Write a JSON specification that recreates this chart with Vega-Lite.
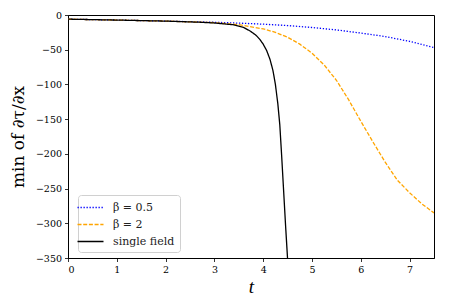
{
  "$schema": "https://vega.github.io/schema/vega-lite/v6.json",
  "width": 366,
  "height": 243,
  "autosize": {"type": "none"},
  "padding": {"left": 68, "top": 15, "right": 23, "bottom": 47},
  "background": "white",
  "config": {
    "view": {"stroke": "black", "strokeWidth": 1},
    "font": "DejaVu Serif",
    "axis": {
      "grid": false,
      "domainColor": "black",
      "tickColor": "black",
      "tickSize": 3.5,
      "tickWidth": 0.8,
      "domainWidth": 1,
      "labelFont": "DejaVu Serif",
      "labelFontSize": 9.5,
      "labelColor": "black",
      "labelPadding": 3,
      "titleFont": "DejaVu Serif",
      "titleFontWeight": "normal",
      "titleColor": "black"
    },
    "legend": {
      "labelFont": "DejaVu Serif",
      "labelFontSize": 11,
      "labelColor": "#222"
    }
  },
  "data": {
    "values": [
      {"t": 0, "value": -6, "series": "β = 0.5"},
      {"t": 1, "value": -7.3, "series": "β = 0.5"},
      {"t": 2, "value": -8.8, "series": "β = 0.5"},
      {"t": 3, "value": -10.5, "series": "β = 0.5"},
      {"t": 3.5, "value": -11.7, "series": "β = 0.5"},
      {"t": 4, "value": -13.2, "series": "β = 0.5"},
      {"t": 4.5, "value": -15.2, "series": "β = 0.5"},
      {"t": 5, "value": -18, "series": "β = 0.5"},
      {"t": 5.5, "value": -21.5, "series": "β = 0.5"},
      {"t": 6, "value": -26, "series": "β = 0.5"},
      {"t": 6.5, "value": -31, "series": "β = 0.5"},
      {"t": 7, "value": -38, "series": "β = 0.5"},
      {"t": 7.5, "value": -47, "series": "β = 0.5"},
      {"t": 0, "value": -6, "series": "β = 2"},
      {"t": 1, "value": -7.3, "series": "β = 2"},
      {"t": 2, "value": -8.8, "series": "β = 2"},
      {"t": 3, "value": -11, "series": "β = 2"},
      {"t": 3.5, "value": -14, "series": "β = 2"},
      {"t": 4, "value": -20, "series": "β = 2"},
      {"t": 4.25, "value": -25, "series": "β = 2"},
      {"t": 4.5, "value": -32, "series": "β = 2"},
      {"t": 4.75, "value": -42, "series": "β = 2"},
      {"t": 5, "value": -55, "series": "β = 2"},
      {"t": 5.25, "value": -72, "series": "β = 2"},
      {"t": 5.5, "value": -94, "series": "β = 2"},
      {"t": 5.75, "value": -122, "series": "β = 2"},
      {"t": 6, "value": -153, "series": "β = 2"},
      {"t": 6.25, "value": -183, "series": "β = 2"},
      {"t": 6.5, "value": -212, "series": "β = 2"},
      {"t": 6.75, "value": -238, "series": "β = 2"},
      {"t": 7, "value": -256, "series": "β = 2"},
      {"t": 7.25, "value": -272, "series": "β = 2"},
      {"t": 7.5, "value": -285, "series": "β = 2"},
      {"t": 0, "value": -6, "series": "single field"},
      {"t": 1, "value": -7.3, "series": "single field"},
      {"t": 2, "value": -8.8, "series": "single field"},
      {"t": 2.7, "value": -10.4, "series": "single field"},
      {"t": 3, "value": -11.5, "series": "single field"},
      {"t": 3.38, "value": -14, "series": "single field"},
      {"t": 3.6, "value": -18, "series": "single field"},
      {"t": 3.73, "value": -23, "series": "single field"},
      {"t": 3.85, "value": -29, "series": "single field"},
      {"t": 3.93, "value": -35, "series": "single field"},
      {"t": 4.0, "value": -42, "series": "single field"},
      {"t": 4.07, "value": -51, "series": "single field"},
      {"t": 4.14, "value": -64, "series": "single field"},
      {"t": 4.2, "value": -80, "series": "single field"},
      {"t": 4.25, "value": -100, "series": "single field"},
      {"t": 4.3, "value": -128, "series": "single field"},
      {"t": 4.34, "value": -158, "series": "single field"},
      {"t": 4.38, "value": -205, "series": "single field"},
      {"t": 4.42, "value": -255, "series": "single field"},
      {"t": 4.46, "value": -305, "series": "single field"},
      {"t": 4.5, "value": -352, "series": "single field"}
    ]
  },
  "mark": {"type": "line", "strokeWidth": 1.3, "clip": true},
  "encoding": {
    "x": {
      "field": "t",
      "type": "quantitative",
      "scale": {"domain": [0, 7.5], "nice": false, "zero": false},
      "axis": {"values": [0, 1, 2, 3, 4, 5, 6, 7], "title": "t", "titleFont": "Liberation Serif", "titleFontStyle": "italic", "titleFontSize": 19, "titlePadding": 3}
    },
    "y": {
      "field": "value",
      "type": "quantitative",
      "scale": {"domain": [-350, 0], "nice": false},
      "axis": {"values": [-350, -300, -250, -200, -150, -100, -50, 0], "title": "min of ∂τ/∂x", "titleFontSize": 17, "titlePadding": 8}
    },
    "color": {
      "field": "series",
      "type": "nominal",
      "scale": {"domain": ["β = 0.5", "β = 2", "single field"], "range": ["#0000ff", "#ffa500", "#000000"]},
      "legend": {
        "title": null,
        "orient": "none",
        "legendX": 10,
        "legendY": 180,
        "padding": 5,
        "strokeColor": "#d0d0d0",
        "fillColor": "white",
        "cornerRadius": 3,
        "symbolType": "M-2,0H2",
        "symbolSize": 169,
        "symbolStrokeWidth": 1.3,
        "labelFont": "DejaVu Serif",
        "labelFontSize": 11,
        "labelColor": "#222",
        "labelOffset": 15,
        "rowPadding": 4
      }
    },
    "strokeDash": {
      "field": "series",
      "type": "nominal",
      "scale": {"domain": ["β = 0.5", "β = 2", "single field"], "range": [[1.3, 1.7], [4, 1.7], [1, 0]]},
      "legend": null
    }
  }
}
